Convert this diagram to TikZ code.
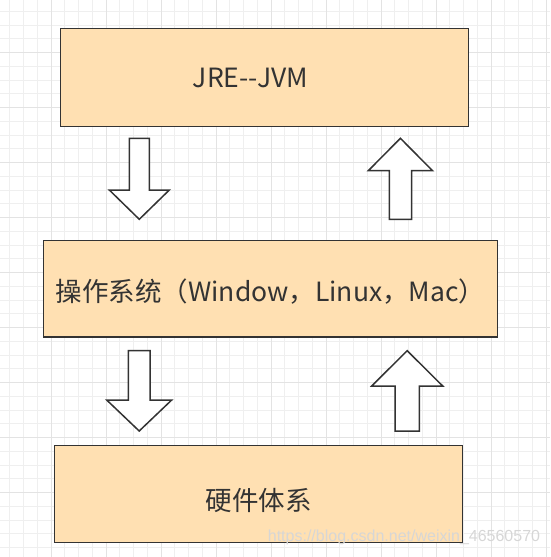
\documentclass[tikz,border=0pt]{standalone}
\usepackage{fontspec}
\setmainfont{Noto Sans CJK SC}
\newfontfamily\markfont{Liberation Sans}
\definecolor{boxfill}{HTML}{FFE0B2}
\definecolor{boxline}{HTML}{333333}
\definecolor{gridminor}{HTML}{EFEFEF}
\definecolor{gridmajor}{HTML}{E3E3E3}
\tikzset{
  layer/.style={draw=boxline, line width=1.5pt, fill=boxfill, inner sep=0pt},
  layertext/.style={text=boxline, font=\fontsize{26.5}{30}\selectfont},
  blockarrow/.style={draw=boxline, line width=1.5pt, fill=white, line join=miter},
}
\begin{document}
\begin{tikzpicture}[x=1pt, y=-1pt]
  \useasboundingbox (0,0) rectangle (550,557);
  % grid paper
  \foreach \k in {0,...,39} {
    \draw[gridminor, line width=1pt] ({9.75+13.75*\k},0) -- ({9.75+13.75*\k},557);
    \draw[gridminor, line width=1pt] (0,{11.45+13.75*\k}) -- (550,{11.45+13.75*\k});
  }
  \foreach \k in {0,...,9} {
    \draw[gridmajor, line width=1pt] ({51+55*\k},0) -- ({51+55*\k},557);
    \draw[gridmajor, line width=1pt] (0,{-2.3+55*\k}) -- (550,{-2.3+55*\k});
  }
  % layers
  \node[layer, minimum width=407.6pt, minimum height=98pt,
        label={[layertext, xshift=-14pt, yshift=-0.5pt]center:JRE-{}-JVM}] (jre) at (264.5,77.3) {};
  \node[layer, minimum width=454.4pt, minimum height=96.3pt,
        label={[layertext, yshift=-2.5pt]center:操作系统（Window，Linux，Mac）}] (os) at (270.5,288.8) {};
  \node[layer, minimum width=408.4pt, minimum height=96.6pt,
        label={[layertext, yshift=-6pt]center:硬件体系}] (hw) at (258.5,494) {};
  % arrows between the layers
  \draw[blockarrow] (129.3,138.3) -- (149.3,138.3) -- (149.3,190) -- (169.3,190) -- (139.3,219.3) -- (109.3,190) -- (129.3,190) -- cycle;
  \draw[blockarrow] (389.3,219.3) -- (411.5,219.3) -- (411.5,170.7) -- (432.5,170.7) -- (400.4,138.3) -- (368.3,170.7) -- (389.3,170.7) -- cycle;
  \draw[blockarrow] (128.4,350.7) -- (150,350.7) -- (150,400) -- (171.7,400) -- (139.2,431) -- (106.7,400) -- (128.4,400) -- cycle;
  \draw[blockarrow] (395,431) -- (419.4,431) -- (419.4,386) -- (442.7,386) -- (407.2,350.7) -- (371.7,386) -- (395,386) -- cycle;
  % watermark
  \node[text=black!16, font=\markfont\fontsize{16}{18}\selectfont, inner sep=0pt] (mark) at (404,537) {https://blog.csdn.net/weixin\_46560570};
\end{tikzpicture}
\end{document}
